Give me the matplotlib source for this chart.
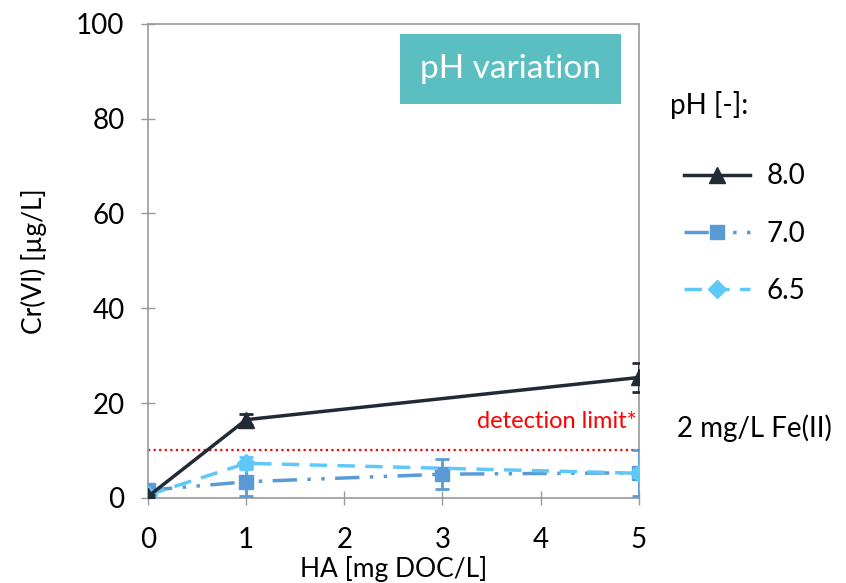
import matplotlib.pyplot as plt
from matplotlib.lines import Line2D

plt.rcParams['font.family'] = ['Lato', 'DejaVu Sans']

# data
ph8_x = [0, 1, 5]
ph8_y = [0.3, 16.5, 25.4]
ph8_err = [0.3, 1.2, 3.0]

ph7_x = [0, 1, 3, 5]
ph7_y = [1.6, 3.4, 5.0, 5.3]
ph7_err = [0.5, 3.0, 3.2, 4.8]

ph65_x = [0, 1, 5]
ph65_y = [0.6, 7.3, 5.2]
ph65_err = [0.4, 1.3, 0.8]

detection_limit = 10

c8 = '#222a36'
c7 = '#5b9bd5'
c65 = '#5ec8f8'

fig = plt.figure(figsize=(8.46, 5.83), dpi=100)
ax = fig.add_axes([0.175, 0.146, 0.58, 0.813])

ax.axhline(detection_limit, color='red', ls=(0, (1, 1.5)), lw=1.6, zorder=1)
ax.text(4.98, 13.8, 'detection limit*', color='red', fontsize=17, ha='right', va='bottom')

ax.errorbar(ph7_x, ph7_y, yerr=ph7_err, color=c7, lw=2.5, ls=(0, (7, 3, 1, 3, 1, 3)),
            marker='s', ms=10, capsize=5, elinewidth=2, capthick=2, zorder=3)
ax.errorbar(ph65_x, ph65_y, yerr=ph65_err, color=c65, lw=2.5, ls=(0, (5, 3)),
            marker='D', ms=9, capsize=5, elinewidth=2, capthick=2, zorder=4)
ax.errorbar(ph8_x, ph8_y, yerr=ph8_err, color=c8, lw=2.5, ls='-',
            marker='^', ms=11, capsize=5, elinewidth=2, capthick=2, zorder=5)

ax.set_xlim(0, 5)
ax.set_ylim(0, 100)
ax.set_xticks(range(6))
ax.set_yticks(range(0, 101, 20))
ax.tick_params(labelsize=20, direction='inout', length=10, color='#999999', width=1)
ax.tick_params(axis='x', pad=16)
ax.tick_params(axis='y', pad=12)
for s in ax.spines.values():
    s.set_color('#999999')
    s.set_linewidth(1.2)
ax.set_xlabel('HA [mg DOC/L]', fontsize=19)
ax.set_ylabel('Cr(VI) [µg/L]', fontsize=19)
ax.xaxis.set_label_coords(0.5, -0.122)
ax.yaxis.set_label_coords(-0.205, 0.5)

ax.text(0.739, 0.904, 'pH variation', transform=ax.transAxes, color='white', fontsize=24,
        ha='center', va='center',
        bbox=dict(boxstyle='square,pad=0.6', fc='#5bbfc1', ec='none'))

handles = [
    Line2D([], [], color=c8, lw=2.5, marker='^', ms=11),
    Line2D([], [], color=c7, lw=2.5, ls=(0, (7, 3, 1, 3, 1, 3)), marker='s', ms=10),
    Line2D([], [], color=c65, lw=2.5, ls=(0, (5, 3)), marker='D', ms=9),
]
leg = fig.legend(handles, ['8.0', '7.0', '6.5'], loc='upper left', bbox_to_anchor=(0.808, 0.72),
                 frameon=False, fontsize=20, handlelength=2.4, labelspacing=1.13,
                 handletextpad=0.6, borderpad=0, borderaxespad=0)
fig.text(0.792, 0.82, 'pH [-]:', fontsize=20, ha='left', va='center')
fig.text(0.8, 0.266, '2 mg/L Fe(II)', fontsize=20, ha='left', va='center')

fig.savefig('out.png', dpi=100)
